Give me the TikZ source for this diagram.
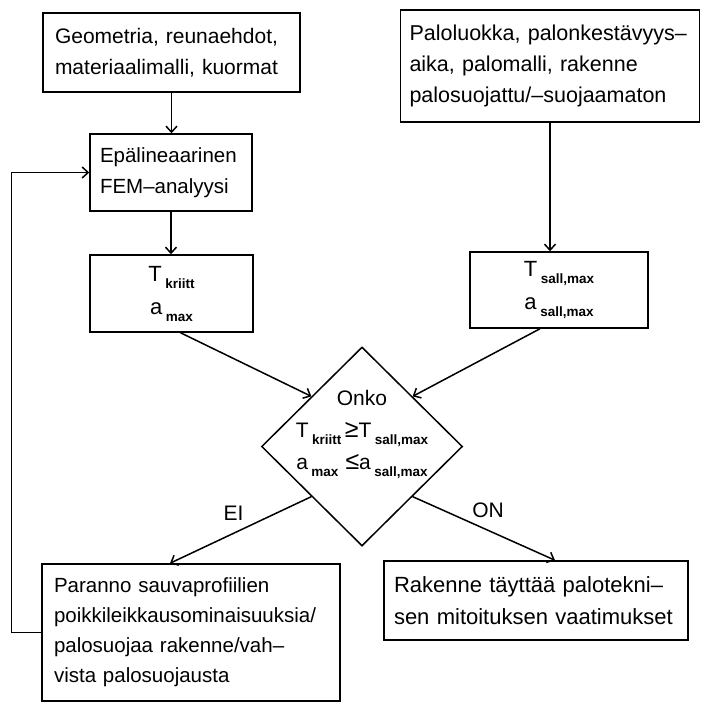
\documentclass[tikz,border=0pt]{standalone}
\usepackage{fontspec}
\setmainfont{Liberation Sans}[WordSpace=1.8]
\usetikzlibrary{shapes.geometric,arrows.meta,calc}
\newcommand\lowsub[1]{\,\raisebox{-7pt}{\fontsize{13.5}{14}\selectfont\bfseries #1}}
\newcommand\bigrel[1]{{\fontsize{25}{25}\selectfont #1}}
\begin{document}
\begin{tikzpicture}[x=1pt,y=-1pt,line width=1.5pt,
  box/.style={draw,rectangle,inner sep=0pt,font=\fontsize{21.5}{31}\selectfont},
  sbox/.style={draw,rectangle,inner sep=0pt,align=center,font=\fontsize{22}{33}\selectfont},
  arr/.style={-{Straight Barb[length=6pt,width=11pt,line width=1.5pt]}},
  lbl/.style={inner sep=0pt,font=\fontsize{21}{24}\selectfont}]
\path[use as bounding box] (0,0) rectangle (701,704);

\node[box,minimum width=257pt,minimum height=79pt,text width=233pt,align=left,font=\fontsize{21}{31}\selectfont] (g1) at (171.5,52.5)
  {Geometria, reunaehdot,\\materiaalimalli, kuormat};
\node[box,minimum width=162pt,minimum height=77pt,text width=142pt,align=left,font=\fontsize{20.5}{31}\selectfont] (fem) at (171,172.5)
  {Epälineaarinen\\FEM–analyysi};
\node[sbox,minimum width=163pt,minimum height=77pt] (tk) at (171.5,293.5)
  {T\lowsub{kriitt}\\a\lowsub{max}};

\node[box,minimum width=299pt,minimum height=112pt,text width=281pt,align=left] (pl) at (550,66)
  {Paloluokka, palonkestävyys–\\aika, palomalli, rakenne\\palosuojattu/–suojaamaton};
\node[sbox,minimum width=178pt,minimum height=76pt] (ts) at (559,290)
  {T\lowsub{sall,max}\\a\lowsub{sall,max}};

\node[draw,diamond,minimum width=201pt,minimum height=199pt,inner sep=0pt] (d) at (362,446.5) {};
\node[inner sep=0pt,align=center,font=\fontsize{21}{32}\selectfont] (dt) at (362,434)
  {Onko\\T\lowsub{kriitt}\,\bigrel{≥}T\lowsub{sall,max}\\a\lowsub{max}\,\,\bigrel{≤}a\lowsub{sall,max}};

\node[box,minimum width=298pt,minimum height=137pt,text width=274pt,align=left,font=\fontsize{20.5}{30}\selectfont] (par) at (191,632.5)
  {Paranno sauvaprofiilien\\poikkileikkausominaisuuksia/\\palosuojaa rakenne/vah–\\vista palosuojausta};
\node[box,minimum width=304pt,minimum height=79pt,text width=284pt,align=left,font=\fontsize{22}{32}\selectfont] (rak) at (536,600.5)
  {Rakenne täyttää palotekni–\\sen mitoituksen vaatimukset};

\draw[arr] (g1.south) -- (g1.south |- fem.north);
\draw[arr] (fem.south) -- (fem.south |- tk.north);
\draw[arr] (pl.south) -- (pl.south |- ts.north);
\draw[arr] ($(tk.south)+(9,0)$) -- ($(d.north)!0.5!(d.west)$);
\draw[arr] ($(ts.south)+(-19,0)$) -- ($(d.north)!0.5!(d.east)$);
\draw[arr] ($(d.south)!0.5!(d.west)$) -- node[lbl,pos=0.55,above=12pt] {EI} ($(par.north)+(-21,0)$);
\draw[arr] ($(d.south)!0.5!(d.east)$) -- node[lbl,pos=0.53,above=12pt] {ON} ($(rak.north)+(19,0)$);
\draw[arr] (par.west) -- ++(-30,0) |- (fem.west);
\end{tikzpicture}
\end{document}
